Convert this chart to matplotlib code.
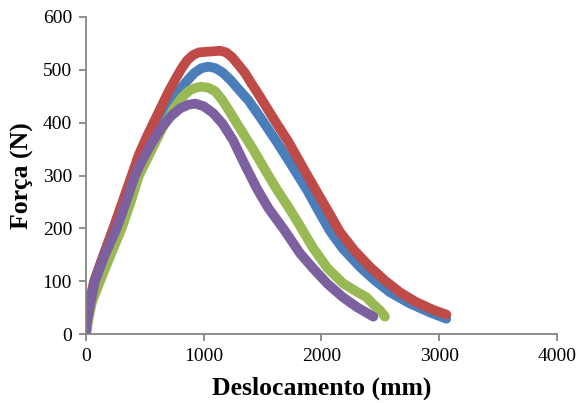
import matplotlib
matplotlib.use("Agg")
import matplotlib.pyplot as plt

# Curvas força x deslocamento dos quatro ensaios
x_azul = [0, 10, 30, 70, 150, 235, 315, 395, 480, 560, 640, 720, 798, 850, 920, 980, 1040,
          1100, 1160, 1230, 1300, 1380, 1480, 1622, 1750, 1876, 1970, 2072, 2180, 2327,
          2450, 2582, 2750, 2921, 3060]
y_azul = [0, 30, 60, 100, 150, 200, 250, 300, 352, 390, 420, 443, 462, 477, 494, 503, 506,
          503, 495, 480, 462, 442, 410, 363, 318, 273, 235, 195, 162, 127,
          102, 79, 58, 41, 29]

x_vermelho = [0, 10, 30, 70, 150, 232, 310, 388, 450, 520, 628, 700, 756, 810, 860, 910,
              960, 1020, 1080, 1140, 1190, 1240, 1300, 1350, 1400, 1461, 1600, 1716, 1830,
              1945, 2050, 2157, 2280, 2412, 2540, 2667, 2800, 2947, 3060]
y_vermelho = [0, 30, 60, 100, 150, 200, 250, 300, 340, 375, 425, 458, 481, 502, 518, 528,
              533, 534, 535, 536, 533, 524, 508, 494, 476, 455, 405, 365, 320,
              275, 235, 193, 158, 127, 101, 79, 61, 46, 37]

x_verde = [0, 15, 50, 119, 210, 303, 380, 450, 550, 650, 750, 820, 880, 930, 980, 1040,
           1100, 1160, 1223, 1300, 1418, 1520, 1622, 1720, 1817, 1928, 2050, 2183, 2300,
           2380, 2437, 2500, 2539]
y_verde = [0, 20, 60, 100, 150, 200, 250, 300, 345, 390, 428, 449, 461, 466, 468, 466,
           459, 442, 420, 392, 350, 311, 273, 240, 205, 163, 125, 96, 80,
           70, 57, 44, 33]

x_roxo = [0, 10, 35, 76, 160, 260, 340, 416, 480, 560, 640, 720, 800, 870, 930, 1000,
          1080, 1160, 1248, 1350, 1452, 1550, 1690, 1817, 1930, 2047, 2180, 2301, 2440]
y_roxo = [0, 25, 55, 100, 150, 200, 250, 300, 330, 362, 390, 412, 427, 434, 436, 431,
          418, 398, 367, 320, 275, 238, 195, 153, 124, 96, 70, 51, 33]

fig = plt.figure(figsize=(5.79, 4.03), dpi=100)
ax = fig.add_axes([0.1485, 0.171, 0.8135, 0.787])

estilo = dict(lw=7, solid_capstyle="round", solid_joinstyle="round")
ax.plot(x_azul, y_azul, color="#4A7EBB", **estilo)
ax.plot(x_vermelho, y_vermelho, color="#BE4B48", **estilo)
ax.plot(x_verde, y_verde, color="#98B954", **estilo)
ax.plot(x_roxo, y_roxo, color="#7D60A0", **estilo)

ax.set_xlim(0, 4000)
ax.set_ylim(0, 600)
ax.set_xticks([0, 1000, 2000, 3000, 4000])
ax.set_yticks(range(0, 601, 100))

for s in ["top", "right"]:
    ax.spines[s].set_visible(False)
for s in ["left", "bottom"]:
    ax.spines[s].set_color("#868686")
    ax.spines[s].set_linewidth(1.3)

ax.tick_params(direction="out", length=5, width=1.3, color="#868686",
               labelsize=14, pad=5)
for lab in ax.get_xticklabels() + ax.get_yticklabels():
    lab.set_family("Liberation Serif")

ax.set_xlabel("Deslocamento (mm)", family="Liberation Serif", fontsize=18.5,
              fontweight="bold")
ax.set_ylabel("Força (N)", family="Liberation Serif", fontsize=18.5,
              fontweight="bold")
ax.xaxis.set_label_coords(0.5, -0.135)
ax.yaxis.set_label_coords(-0.11, 0.5)

fig.savefig("out.png", dpi=100)
